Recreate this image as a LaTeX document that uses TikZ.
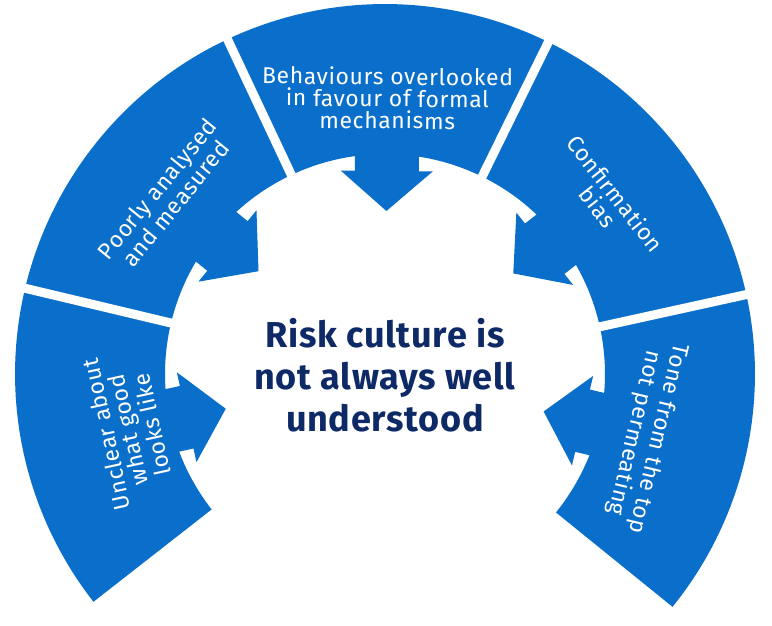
\documentclass[tikz,border=0pt]{standalone}
\usepackage{fontspec}
\setmainfont{Fira Sans}
\usetikzlibrary{calc}
\definecolor{segblue}{HTML}{0A6FCA}
\definecolor{navy}{HTML}{0E2A66}
\tikzset{
  segment/.style={fill=segblue},
  gapline/.style={draw=white, line width=0.18cm},
  seglabel/.style={text=white, align=center, inner sep=1pt, font=\addfontfeatures{LetterSpace=3}\fontsize{13}{12.5}\selectfont},
  mainlabel/.style={text=navy, align=center, font=\bfseries\addfontfeatures{LetterSpace=2}\fontsize{20.5}{24}\selectfont}
}
\begin{document}
\begin{tikzpicture}[x=0.02cm, y=0.02cm]

%% Parameters
\def\Rout{370}
\def\Rin{220}
\def\Span{25.7}
\useasboundingbox (0,0) rectangle (772,-626);
\coordinate (c) at (385,-374);

%% segments with arrows
\foreach \m in {192.3, 140.9, 89.5, 38.1, -13.3}{
  \begin{scope}[shift={(c)}, rotate=\m]
    \fill[segment] (-\Span:\Rout) arc[start angle=-\Span, end angle=\Span, radius=\Rout]
          -- (\Span:\Rin) arc[start angle=\Span, end angle=-\Span, radius=\Rin] -- cycle;
    \fill[segment] (225,32) -- (203,32) -- (203,46) -- (163,0) -- (203,-46) -- (203,-32) -- (225,-32) -- cycle;
  \end{scope}
}
% gaps
\foreach \a in {166.6, 115.2, 63.8, 12.4}{
  \draw[gapline] ($(c)+(\a:150)$) -- ($(c)+(\a:380)$);
}

%% labels
\node[seglabel, rotate=102.3] (unclear) at ($(c)+(192.3:262)$) {Unclear about\\what good\\looks like};
\node[seglabel, rotate=50.9] (poorly) at ($(c)+(140.9:282)$) {Poorly analysed\\and measured};
\node[seglabel, rotate=-0.5] (behav) at ($(c)+(89.5:276)$) {Behaviours overlooked\\in favour of formal\\mechanisms};
\node[seglabel, rotate=-51.9] (confirm) at ($(c)+(38.1:282)$) {Confirmation\\bias};
\node[seglabel, rotate=-103.3] (tone) at ($(c)+(-13.3:268)$) {Tone from the top\\not permeating};

\node[mainlabel] (risk) at (385,-375) {Risk culture is\\not always well\\understood};
\end{tikzpicture}
\end{document}
